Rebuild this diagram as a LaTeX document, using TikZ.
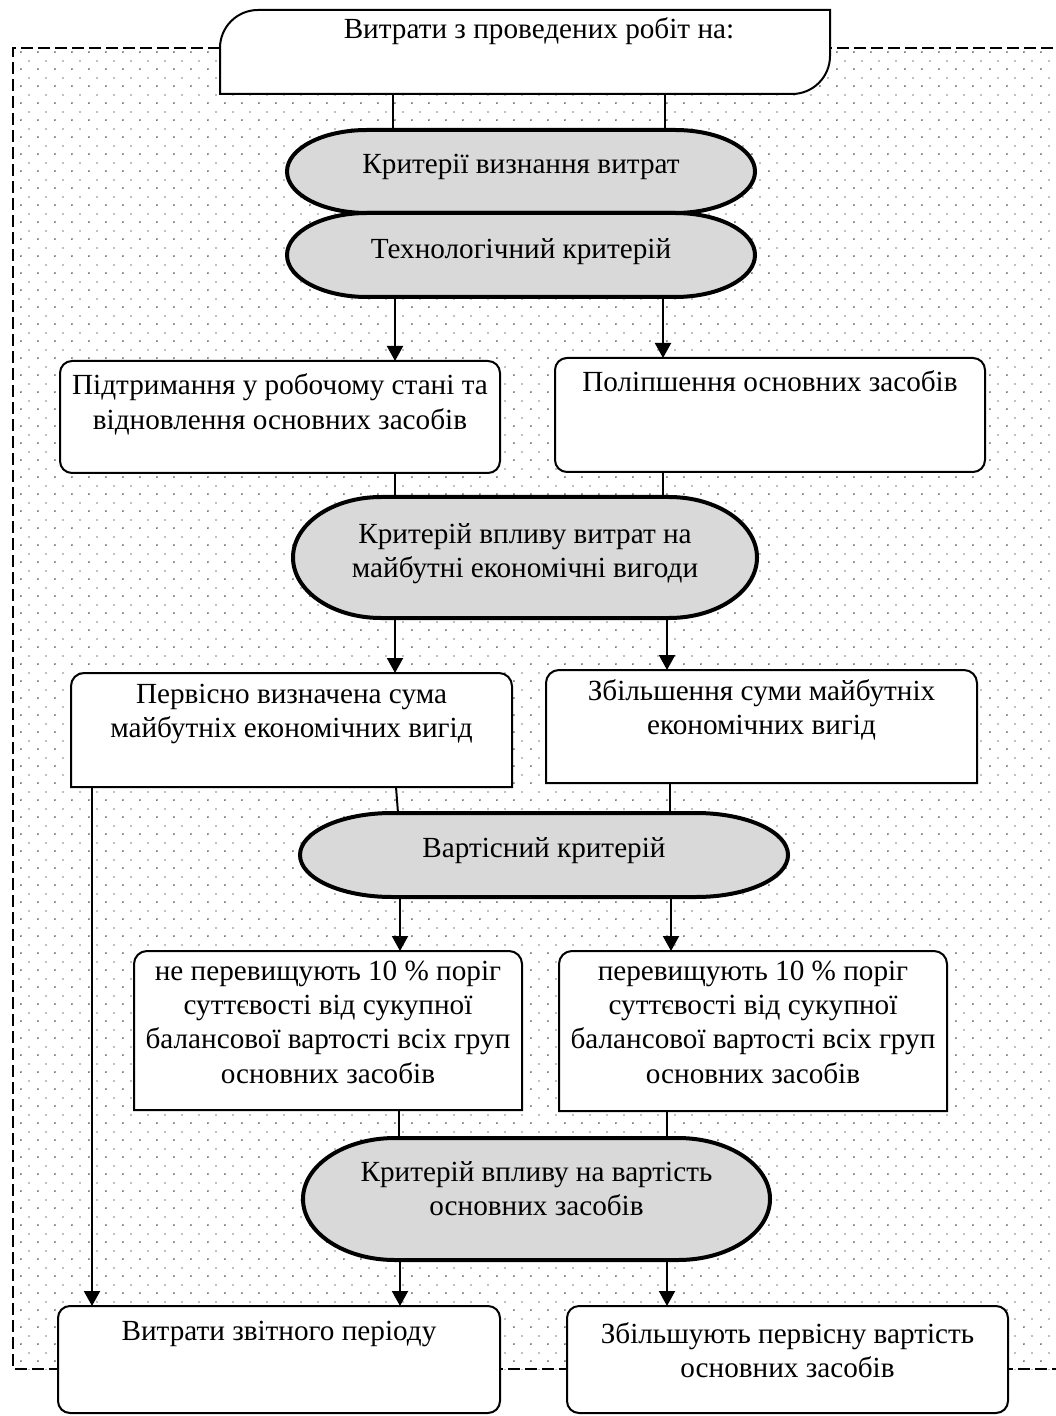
\documentclass[tikz,border=0pt]{standalone}
\usepackage{fontspec}
\setmainfont{Liberation Serif}
\usetikzlibrary{arrows.meta,calc,patterns.meta}

\pgfdeclarelayer{dotsbg}
\pgfdeclarelayer{shapes}
\pgfsetlayers{dotsbg,shapes,main}

\definecolor{stadfill}{HTML}{D9D9D9}

% staggered dot raster for the framed area
\tikzdeclarepattern{
  name=stagdots,
  type=colored,
  bounding box={(0pt,0pt) and (8.5pt,8.5pt)},
  tile size={(8.5pt,8.5pt)},
  code={
    \fill[black!70] (2.1pt,2.1pt) circle[radius=0.5pt];
    \fill[black!50] (6.35pt,6.35pt) circle[radius=0.5pt];
  }
}

\tikzset{
  boxtext/.style={inner sep=0pt, outer sep=0pt, font=\fontsize{14.6}{17.2}\selectfont},
  roundbox/.style={draw, line width=1pt, fill=white, rounded corners=6pt},
  shapeline/.style={draw, line width=1pt, fill=white},
  stadline/.style={draw, line width=2pt, fill=stadfill},
  conn/.style={line width=1pt},
  arr/.style={conn, -{Triangle[width=8pt,length=7.5pt]}},
  framedash/.style={line width=1pt, dash pattern=on 6pt off 2.5pt}
}

% box node: name, x1, y1, x2, y2 (px), gap above first line (pt), text, extra style
\newcommand\mkbox[8]{%
  \pgfmathsetmacro\bxw{(#4-#2)*0.5}%
  \pgfmathsetmacro\bxh{(#5-#3)*0.5}%
  \node[boxtext,#8] (#1) at ({(#2+#4)/2},{(#3+#5)/2})
    {\parbox[c][\bxh pt][t]{\bxw pt}{\centering\vspace*{#6pt}\strut #7}};%
}

% terminator outline with elliptic ends behind a node
\newcommand\stadium[2]{%
  \begin{pgfonlayer}{shapes}
  \path[stadline] let \p1=(#1.north west), \p2=(#1.south east), \n1={(\y1-\y2)/2} in
    (\x1+#2,\y1) -- (\x2-#2,\y1)
    arc[start angle=90,end angle=-90,x radius=#2,y radius={\n1*1pt}]
    -- (\x1+#2,\y2)
    arc[start angle=270,end angle=90,x radius=#2,y radius={\n1*1pt}] -- cycle;
  \end{pgfonlayer}}

% box with rounded upper corners only
\newcommand\toprounded[2]{%
  \begin{pgfonlayer}{shapes}
  \path[shapeline] let \p1=(#1.north west), \p2=(#1.south east) in
    (\x1,\y2) -- (\x1,\y1-#2) arc[start angle=180,end angle=90,radius=#2]
    -- (\x2-#2,\y1) arc[start angle=90,end angle=0,radius=#2]
    -- (\x2,\y2) -- cycle;
  \end{pgfonlayer}}

% box with rounded upper-left and lower-right corners
\newcommand\diagrounded[2]{%
  \begin{pgfonlayer}{shapes}
  \path[shapeline] let \p1=(#1.north west), \p2=(#1.south east) in
    (\x1,\y2) -- (\x1,\y1-#2) arc[start angle=180,end angle=90,radius=#2]
    -- (\x2,\y1) -- (\x2,\y2+#2) arc[start angle=0,end angle=-90,radius=#2]
    -- cycle;
  \end{pgfonlayer}}

\begin{document}
\begin{tikzpicture}[x=0.5pt,y=-0.5pt]
\useasboundingbox (0,0) rectangle (1055,1416);

\begin{pgfonlayer}{dotsbg}
  \fill[white] (0,0) rectangle (1055,1416);
  \fill[pattern=stagdots] (13,48) rectangle (1070,1369);
  \draw[framedash] (1070,48) -- (13,48) -- (13,1369) -- (1070,1369);
\end{pgfonlayer}

% boxes
\mkbox{top}{220}{10}{830}{94}{2.2}{\hspace*{14pt}Витрати з проведених робіт на:}{}
\mkbox{s1}{287}{130}{755}{213}{9.7}{Критерії визнання витрат}{}
\mkbox{s2}{287}{213}{755}{297}{10.7}{Технологічний критерій}{}
\mkbox{b1}{60}{361}{500}{473}{4.96}{Підтримання у робочому стані та\\ відновлення основних засобів}{roundbox}
\mkbox{b2}{555}{358}{985}{472}{4.96}{Поліпшення основних засобів}{roundbox}
\mkbox{s3}{293}{497}{757}{618}{11.2}{Критерій впливу витрат на\\ майбутні економічні вигоди}{}
\mkbox{b3}{71}{673}{512}{787}{2.96}{Первісно визначена сума\\ майбутніх економічних вигід}{}
\mkbox{b4}{546}{670}{977}{783}{2.96}{Збільшення суми майбутніх\\ економічних вигід}{}
\mkbox{s4}{300}{813}{788}{897}{9.96}{Вартісний критерій}{}
\mkbox{b5}{134}{951}{522}{1110}{2.46}{не перевищують 10~\% поріг\\ суттєвості від сукупної\\ балансової вартості всіх груп\\ основних засобів}{}
\mkbox{b6}{559}{951}{947}{1111}{2.46}{перевищують 10~\% поріг\\ суттєвості від сукупної\\ балансової вартості всіх груп\\ основних засобів}{}
\mkbox{s5}{303}{1138}{770}{1260}{9.7}{Критерій впливу на вартість\\ основних засобів}{}
\mkbox{b7}{58}{1306}{500}{1413}{4.96}{Витрати звітного періоду}{roundbox}
\mkbox{b8}{567}{1306}{1008}{1413}{6.46}{Збільшують первісну вартість\\ основних засобів}{roundbox}

% outlines
\diagrounded{top}{19pt}
\stadium{s1}{40pt}
\stadium{s2}{40pt}
\stadium{s3}{44pt}
\stadium{s4}{46pt}
\stadium{s5}{46pt}
\toprounded{b3}{6.5pt}
\toprounded{b4}{6.5pt}
\toprounded{b5}{6.5pt}
\toprounded{b6}{6.5pt}

% connector columns
\coordinate (c92) at (92,0);
\coordinate (c393) at (393,0);
\coordinate (c395) at (395,0);
\coordinate (c396) at (396,0);
\coordinate (c398) at (398,0);
\coordinate (c399) at (399,0);
\coordinate (c400) at (400,0);
\coordinate (c663) at (663,0);
\coordinate (c665) at (665,0);
\coordinate (c667) at (667,0);
\coordinate (c670) at (670,0);
\coordinate (c671) at (671,0);

% connectors
\draw[conn] (top.south -| c393) -- (s1.north -| c393);
\draw[conn] (top.south -| c665) -- (s1.north -| c665);
\draw[arr] (s2.south -| c395) -- (b1.north -| c395);
\draw[arr] (s2.south -| c663) -- (b2.north -| c663);
\draw[conn] (b1.south -| c395) -- (s3.north -| c395);
\draw[conn] (b2.south -| c663) -- (s3.north -| c663);
\draw[arr] (s3.south -| c395) -- (b3.north -| c395);
\draw[arr] (s3.south -| c667) -- (b4.north -| c667);
\draw[conn] (b3.south -| c396) -- (s4.north -| c398);
\draw[conn] (b4.south -| c670) -- (s4.north -| c670);
\draw[arr] (s4.south -| c400) -- (b5.north -| c400);
\draw[arr] (s4.south -| c671) -- (b6.north -| c671);
\draw[conn] (b5.south -| c399) -- (s5.north -| c399);
\draw[conn] (b6.south -| c667) -- (s5.north -| c667);
\draw[arr] (s5.south -| c400) -- (b7.north -| c400);
\draw[arr] (s5.south -| c667) -- (b8.north -| c667);
\draw[arr] (b3.south -| c92) -- (b7.north -| c92);
\end{tikzpicture}
\end{document}
